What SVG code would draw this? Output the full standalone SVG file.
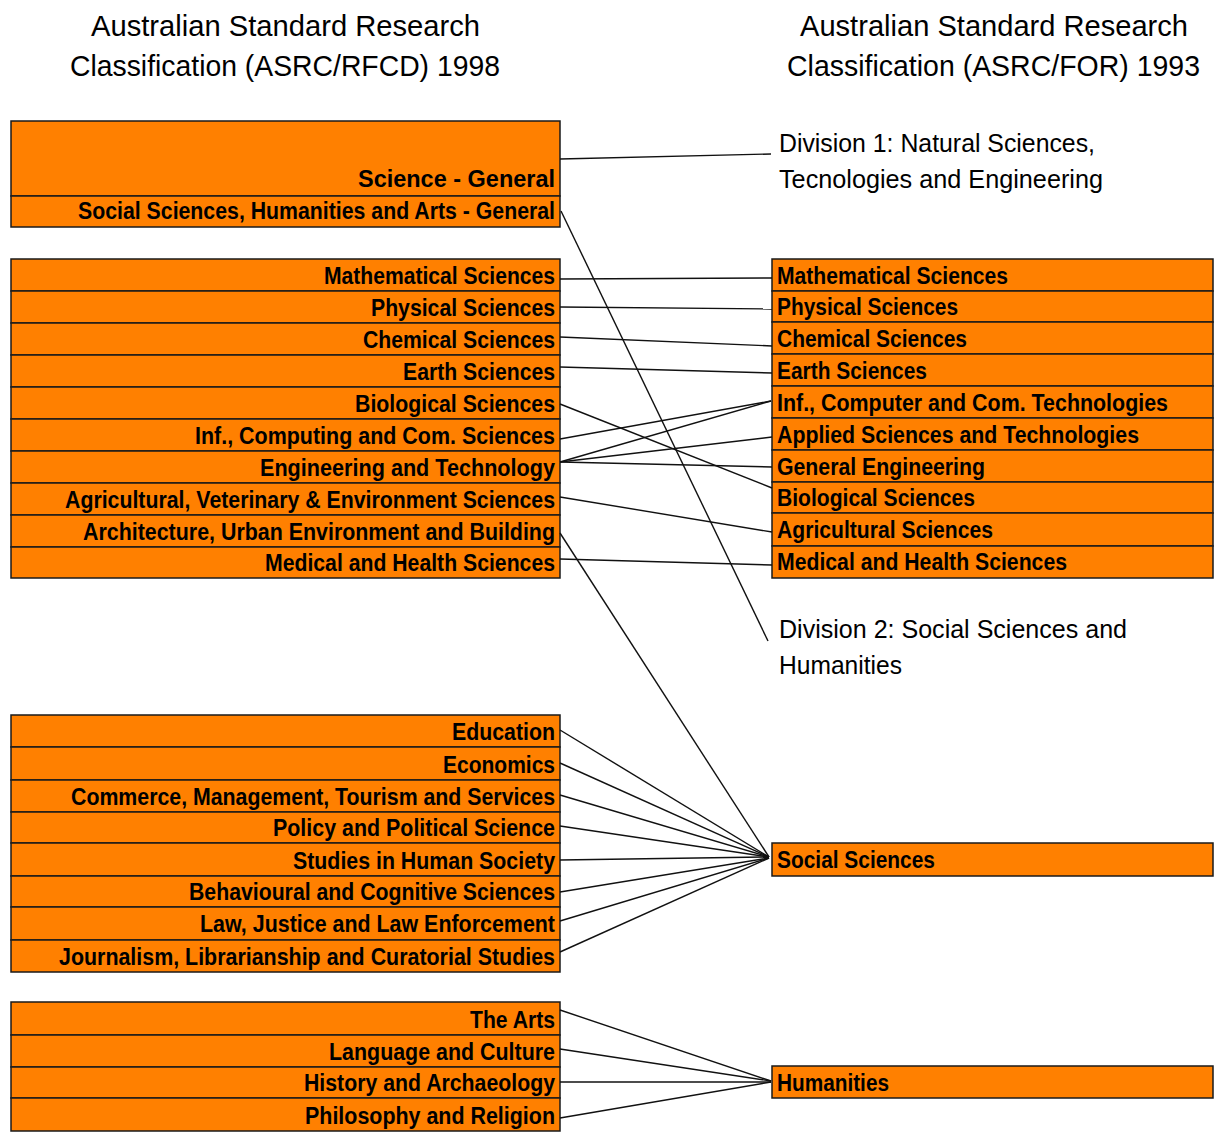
<svg xmlns="http://www.w3.org/2000/svg" width="1219" height="1136" viewBox="0 0 1219 1136">
<style>
.bg{fill:#ffffff}
.box{fill:#FF8000;stroke:#1a1a1a;stroke-width:1.5}
.lbl{font-family:"Liberation Sans",Arial,sans-serif;font-weight:bold;font-size:23px;fill:#000}
.l{text-anchor:end}
.head{font-family:"Liberation Sans",Arial,sans-serif;font-size:29px;fill:#000}
.div{font-family:"Liberation Sans",Arial,sans-serif;font-size:25px;fill:#000}
.con line{stroke:#111;stroke-width:1.4}
</style>
<rect class="bg" x="0" y="0" width="1219" height="1136"/>

<g id="headings">
<text class="head" x="91" y="36" textLength="389" lengthAdjust="spacingAndGlyphs">Australian Standard Research</text>
<text class="head" x="70" y="76" textLength="430" lengthAdjust="spacingAndGlyphs">Classification (ASRC/RFCD) 1998</text>
<text class="head" x="800" y="36" textLength="388" lengthAdjust="spacingAndGlyphs">Australian Standard Research</text>
<text class="head" x="787" y="76" textLength="413" lengthAdjust="spacingAndGlyphs">Classification (ASRC/FOR) 1993</text>
</g>

<g id="division1"><text class="div" x="779" y="152" textLength="316" lengthAdjust="spacingAndGlyphs">Division 1: Natural Sciences,</text>
<text class="div" x="779" y="188" textLength="324" lengthAdjust="spacingAndGlyphs">Tecnologies and Engineering</text></g>
<g id="division2"><text class="div" x="779" y="638" textLength="348" lengthAdjust="spacingAndGlyphs">Division 2: Social Sciences and</text>
<text class="div" x="779" y="674" textLength="123" lengthAdjust="spacingAndGlyphs">Humanities</text></g>

<!-- Left column -->
<g id="l-science-general"><rect class="box" x="11" y="121" width="549" height="75"/><text class="lbl l" x="555" y="187" textLength="197" lengthAdjust="spacingAndGlyphs">Science - General</text></g>
<g id="l-ssha-general"><rect class="box" x="11" y="196" width="549" height="31"/><text class="lbl l" x="555" y="219" textLength="477" lengthAdjust="spacingAndGlyphs">Social Sciences, Humanities and Arts - General</text></g>

<g id="l-math"><rect class="box" x="11" y="259" width="549" height="32"/><text class="lbl l" x="555" y="284" textLength="231" lengthAdjust="spacingAndGlyphs">Mathematical Sciences</text></g>
<g id="l-phys"><rect class="box" x="11" y="291" width="549" height="32"/><text class="lbl l" x="555" y="316" textLength="184" lengthAdjust="spacingAndGlyphs">Physical Sciences</text></g>
<g id="l-chem"><rect class="box" x="11" y="323" width="549" height="32"/><text class="lbl l" x="555" y="348" textLength="192" lengthAdjust="spacingAndGlyphs">Chemical Sciences</text></g>
<g id="l-earth"><rect class="box" x="11" y="355" width="549" height="32"/><text class="lbl l" x="555" y="380" textLength="152" lengthAdjust="spacingAndGlyphs">Earth Sciences</text></g>
<g id="l-bio"><rect class="box" x="11" y="387" width="549" height="32"/><text class="lbl l" x="555" y="412" textLength="200" lengthAdjust="spacingAndGlyphs">Biological Sciences</text></g>
<g id="l-inf"><rect class="box" x="11" y="419" width="549" height="32"/><text class="lbl l" x="555" y="444" textLength="360" lengthAdjust="spacingAndGlyphs">Inf., Computing and Com. Sciences</text></g>
<g id="l-eng"><rect class="box" x="11" y="451" width="549" height="32"/><text class="lbl l" x="555" y="476" textLength="295" lengthAdjust="spacingAndGlyphs">Engineering and Technology</text></g>
<g id="l-agri"><rect class="box" x="11" y="483" width="549" height="32"/><text class="lbl l" x="555" y="508" textLength="490" lengthAdjust="spacingAndGlyphs">Agricultural, Veterinary &amp; Environment Sciences</text></g>
<g id="l-arch"><rect class="box" x="11" y="515" width="549" height="32"/><text class="lbl l" x="555" y="540" textLength="472" lengthAdjust="spacingAndGlyphs">Architecture, Urban Environment and Building</text></g>
<g id="l-med"><rect class="box" x="11" y="547" width="549" height="31"/><text class="lbl l" x="555" y="571" textLength="290" lengthAdjust="spacingAndGlyphs">Medical and Health Sciences</text></g>

<g id="l-edu"><rect class="box" x="11" y="715" width="549" height="32"/><text class="lbl l" x="555" y="740" textLength="103" lengthAdjust="spacingAndGlyphs">Education</text></g>
<g id="l-econ"><rect class="box" x="11" y="747" width="549" height="33"/><text class="lbl l" x="555" y="773" textLength="112" lengthAdjust="spacingAndGlyphs">Economics</text></g>
<g id="l-comm"><rect class="box" x="11" y="780" width="549" height="32"/><text class="lbl l" x="555" y="805" textLength="484" lengthAdjust="spacingAndGlyphs">Commerce, Management, Tourism and Services</text></g>
<g id="l-policy"><rect class="box" x="11" y="812" width="549" height="31"/><text class="lbl l" x="555" y="836" textLength="282" lengthAdjust="spacingAndGlyphs">Policy and Political Science</text></g>
<g id="l-studies"><rect class="box" x="11" y="843" width="549" height="33"/><text class="lbl l" x="555" y="869" textLength="262" lengthAdjust="spacingAndGlyphs">Studies in Human Society</text></g>
<g id="l-behav"><rect class="box" x="11" y="876" width="549" height="31"/><text class="lbl l" x="555" y="900" textLength="366" lengthAdjust="spacingAndGlyphs">Behavioural and Cognitive Sciences</text></g>
<g id="l-law"><rect class="box" x="11" y="907" width="549" height="33"/><text class="lbl l" x="555" y="932" textLength="355" lengthAdjust="spacingAndGlyphs">Law, Justice and Law Enforcement</text></g>
<g id="l-journ"><rect class="box" x="11" y="940" width="549" height="32"/><text class="lbl l" x="555" y="965" textLength="496" lengthAdjust="spacingAndGlyphs">Journalism, Librarianship and Curatorial Studies</text></g>

<g id="l-arts"><rect class="box" x="11" y="1002" width="549" height="33"/><text class="lbl l" x="555" y="1028" textLength="85" lengthAdjust="spacingAndGlyphs">The Arts</text></g>
<g id="l-lang"><rect class="box" x="11" y="1035" width="549" height="32"/><text class="lbl l" x="555" y="1060" textLength="226" lengthAdjust="spacingAndGlyphs">Language and Culture</text></g>
<g id="l-hist"><rect class="box" x="11" y="1067" width="549" height="31"/><text class="lbl l" x="555" y="1091" textLength="251" lengthAdjust="spacingAndGlyphs">History and Archaeology</text></g>
<g id="l-phil"><rect class="box" x="11" y="1098" width="549" height="33"/><text class="lbl l" x="555" y="1124" textLength="250" lengthAdjust="spacingAndGlyphs">Philosophy and Religion</text></g>

<!-- Right column -->
<g id="r-math"><rect class="box" x="772" y="259" width="441" height="32"/><text class="lbl" x="777" y="284" textLength="231" lengthAdjust="spacingAndGlyphs">Mathematical Sciences</text></g>
<g id="r-phys"><rect class="box" x="772" y="291" width="441" height="31"/><text class="lbl" x="777" y="315" textLength="181" lengthAdjust="spacingAndGlyphs">Physical Sciences</text></g>
<g id="r-chem"><rect class="box" x="772" y="322" width="441" height="32"/><text class="lbl" x="777" y="347" textLength="190" lengthAdjust="spacingAndGlyphs">Chemical Sciences</text></g>
<g id="r-earth"><rect class="box" x="772" y="354" width="441" height="32"/><text class="lbl" x="777" y="379" textLength="150" lengthAdjust="spacingAndGlyphs">Earth Sciences</text></g>
<g id="r-inf"><rect class="box" x="772" y="386" width="441" height="32"/><text class="lbl" x="777" y="411" textLength="391" lengthAdjust="spacingAndGlyphs">Inf., Computer and Com. Technologies</text></g>
<g id="r-applied"><rect class="box" x="772" y="418" width="441" height="32"/><text class="lbl" x="777" y="443" textLength="362" lengthAdjust="spacingAndGlyphs">Applied Sciences and Technologies</text></g>
<g id="r-geneng"><rect class="box" x="772" y="450" width="441" height="32"/><text class="lbl" x="777" y="475" textLength="208" lengthAdjust="spacingAndGlyphs">General Engineering</text></g>
<g id="r-bio"><rect class="box" x="772" y="482" width="441" height="31"/><text class="lbl" x="777" y="506" textLength="198" lengthAdjust="spacingAndGlyphs">Biological Sciences</text></g>
<g id="r-agri"><rect class="box" x="772" y="513" width="441" height="33"/><text class="lbl" x="777" y="538" textLength="216" lengthAdjust="spacingAndGlyphs">Agricultural Sciences</text></g>
<g id="r-med"><rect class="box" x="772" y="546" width="441" height="32"/><text class="lbl" x="777" y="570" textLength="290" lengthAdjust="spacingAndGlyphs">Medical and Health Sciences</text></g>

<g id="r-social"><rect class="box" x="772" y="843" width="441" height="33"/><text class="lbl" x="777" y="868" textLength="158" lengthAdjust="spacingAndGlyphs">Social Sciences</text></g>
<g id="r-hum"><rect class="box" x="772" y="1066" width="441" height="32"/><text class="lbl" x="777" y="1091" textLength="112" lengthAdjust="spacingAndGlyphs">Humanities</text></g>

<!-- Connectors -->
<g id="connectors" class="con">
<line x1="560" y1="159" x2="771" y2="154"/>
<line x1="561" y1="211" x2="768" y2="641"/>
<line x1="560" y1="279" x2="772" y2="278"/>
<line x1="560" y1="307" x2="772" y2="309"/>
<line x1="560" y1="337" x2="772" y2="346"/>
<line x1="560" y1="367" x2="772" y2="373"/>
<line x1="560" y1="404" x2="772" y2="488"/>
<line x1="560" y1="439" x2="771" y2="401"/>
<line x1="560" y1="462" x2="771" y2="401"/>
<line x1="560" y1="462" x2="772" y2="437"/>
<line x1="560" y1="462" x2="772" y2="467"/>
<line x1="560" y1="497" x2="772" y2="532"/>
<line x1="560" y1="533" x2="769" y2="857"/>
<line x1="560" y1="559" x2="772" y2="565"/>
<line x1="560" y1="730" x2="769" y2="857"/>
<line x1="560" y1="763" x2="769" y2="857"/>
<line x1="560" y1="795" x2="769" y2="857"/>
<line x1="560" y1="826" x2="769" y2="857"/>
<line x1="560" y1="860" x2="769" y2="857"/>
<line x1="560" y1="892" x2="769" y2="858"/>
<line x1="560" y1="921" x2="769" y2="858"/>
<line x1="560" y1="952" x2="769" y2="858"/>
<line x1="560" y1="1010" x2="771" y2="1081"/>
<line x1="560" y1="1049" x2="771" y2="1081"/>
<line x1="560" y1="1082" x2="771" y2="1082"/>
<line x1="560" y1="1118" x2="771" y2="1082"/>
</g>
</svg>
